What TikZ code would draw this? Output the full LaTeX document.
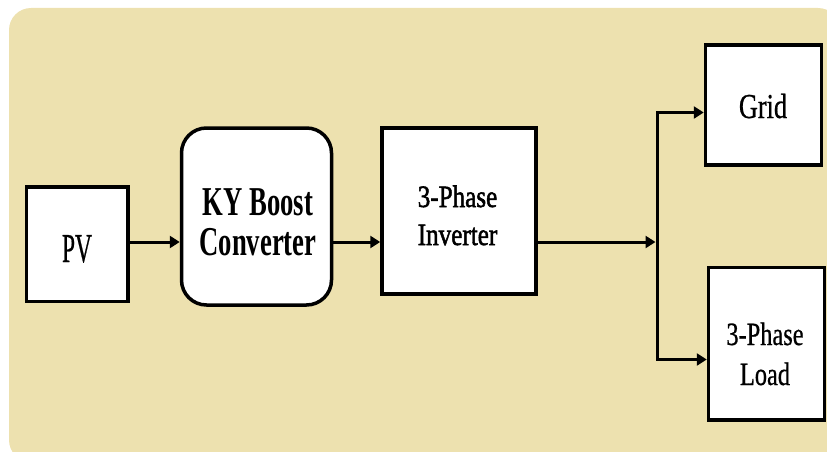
\documentclass[tikz,border=0pt]{standalone}
\usepackage{fontspec}
\setmainfont{Liberation Serif}
\newfontfamily\txtA[FakeBold=0.8]{Liberation Serif}
\newfontfamily\txtB[FakeBold=1.8]{Liberation Serif}
\usetikzlibrary{arrows.meta}
\definecolor{bgc}{RGB}{237,225,175}
\tikzset{
  blk/.style={draw=black, fill=white, line width=3.5pt, inner sep=0pt},
  lbl/.style={anchor=base, inner sep=0pt},
  arr/.style={line width=3pt, -{Triangle[length=10pt,width=12pt]}, line join=miter},
}
\begin{document}
\begin{tikzpicture}[x=1pt,y=-1pt]
\clip (0,0) rectangle (827,452);
\fill[bgc, rounded corners=22pt] (9,8) rectangle (840,462);
% boxes
\node[blk, minimum width=101.5pt, minimum height=114.5pt] (pv) at (77.25,244.25) {};
\node[blk, rounded corners=25pt, minimum width=150pt, minimum height=177pt] (ky) at (256.5,216.5) {};
\node[blk, minimum width=154pt, minimum height=166pt] (inv) at (459,211) {};
\node[blk, minimum width=116pt, minimum height=120pt] (grid) at (763.5,105) {};
\node[blk, minimum width=116pt, minimum height=152.5pt] (load) at (766.5,343.75) {};
% labels
\node[lbl] (pvt) at (77,262) {\scalebox{0.57}[1]{\fontsize{41}{48}\txtA PV}};
\node[lbl] (kyt) at (258,215) {\scalebox{0.65}[1]{\fontsize{41}{40}\selectfont\bfseries\begin{tabular}[t]{@{}c@{}}KY Boost\\Converter\end{tabular}}};
\node[lbl] (invt) at (457.5,207) {\scalebox{0.81}[1]{\fontsize{31}{38}\txtB\begin{tabular}[t]{@{}c@{}}3-Phase\\Inverter\end{tabular}}};
\node[lbl] (gridt) at (763,118) {\scalebox{0.75}[1]{\fontsize{35}{42}\txtA Grid}};
\node[lbl] (loadt) at (765,345) {\scalebox{0.75}[1]{\fontsize{32.5}{40}\txtA\begin{tabular}[t]{@{}c@{}}3-Phase\\Load\end{tabular}}};
% connectors
\coordinate (m) at (0,242);
\coordinate (j) at (657,242);
\coordinate (jt) at (657,112.5);
\coordinate (jb) at (657,359.5);
\draw[arr] (pv.east |- m) -- (ky.west |- m);
\draw[arr] (ky.east |- m) -- (inv.west |- m);
\draw[arr] (inv.east |- m) -- ([xshift=-1.5pt]j);
\draw[arr] (j) -- (jt) -- (grid.west |- jt);
\draw[arr] (j) -- (jb) -- (load.west |- jb);
\end{tikzpicture}
\end{document}
